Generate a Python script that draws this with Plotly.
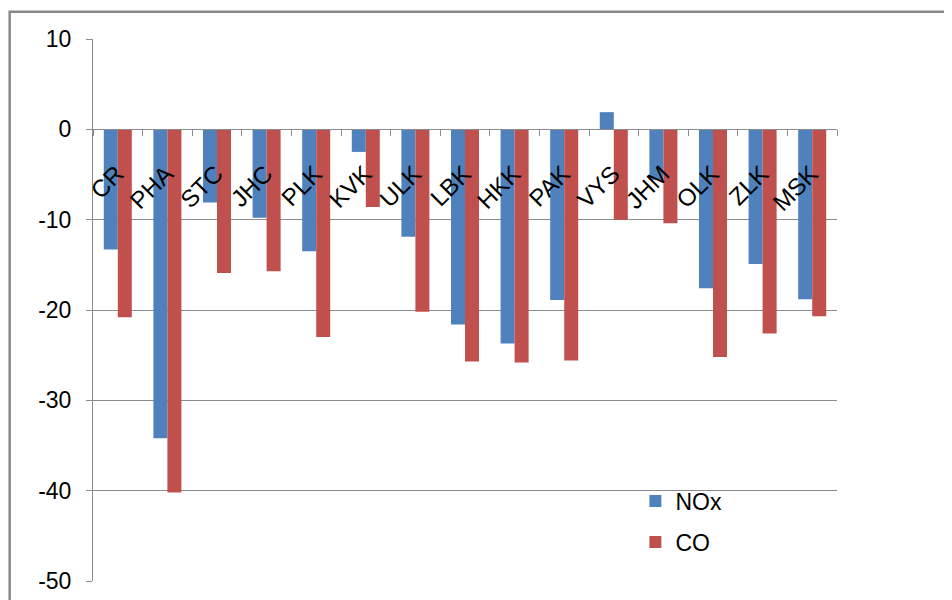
import plotly.graph_objects as go

categories = ["CR", "PHA", "STC", "JHC", "PLK", "KVK", "ULK", "LBK", "HKK", "PAK",
              "VYS", "JHM", "OLK", "ZLK", "MSK"]
nox = [-13.3, -34.2, -8.1, -9.8, -13.5, -2.5, -11.9, -21.6, -23.7, -18.9,
       1.9, -5.6, -17.6, -14.9, -18.8]
co = [-20.8, -40.2, -15.9, -15.7, -23.0, -8.6, -20.2, -25.7, -25.8, -25.6,
      -10.0, -10.4, -25.2, -22.6, -20.7]
y_ticks = [10, 0, -10, -20, -30, -40, -50]
y_tick_text = ["10", "0", "-10", "-20", "-30", "-40", "-50"]
y_range = [-50, 10]

FONT = "Liberation Sans, Arial, sans-serif"
GRID = "#8c8c8c"

fig = go.Figure()
fig.add_trace(go.Bar(x=categories, y=nox, name="NOx", marker_color="#4F81BD",
                     marker_line_width=0, legendgroup="a"))
fig.add_trace(go.Bar(x=categories, y=co, name="CO", marker_color="#C0504D",
                     marker_line_width=0, legendgroup="b"))

zero_pos = (0 - y_range[0]) / (y_range[1] - y_range[0])

fig.update_layout(
    width=952, height=600,
    margin=dict(l=85, r=123, t=31, b=27),
    paper_bgcolor="white", plot_bgcolor="white",
    barmode="group", bargap=0.435, bargroupgap=0,
    font=dict(family=FONT, size=23, color="black"),
    showlegend=True,
    legend=dict(x=0.729, y=0.187, xanchor="left", yanchor="top",
                bgcolor="rgba(0,0,0,0)", font=dict(size=23),
                traceorder="grouped", tracegroupgap=8, itemwidth=30),
    xaxis=dict(
        type="category", anchor="free", position=zero_pos,
        showline=True, linecolor=GRID, linewidth=1,
        ticks="outside", tickson="boundaries", ticklen=6, tickcolor=GRID,
        tickangle=-45, showgrid=False, zeroline=False,
        ticklabelstandoff=20, ticklabelshift=-1,
        tickfont=dict(size=24, family=FONT),
    ),
    yaxis=dict(
        range=y_range, tickvals=y_ticks, ticktext=y_tick_text,
        ticks="outside", ticklen=6,
        tickcolor=GRID, showline=True, linecolor=GRID, linewidth=1,
        showgrid=True, gridcolor=GRID, gridwidth=1, zeroline=False,
        ticklabelstandoff=10, tickfont=dict(size=23, family=FONT),
    ),
    shapes=[dict(type="rect", xref="paper", yref="paper",
                 x0=-0.112, x1=1.4, y0=-0.2, y1=1.0505,
                 line=dict(color="#888888", width=2.5), layer="above")],
)

fig.write_html("out.html")
